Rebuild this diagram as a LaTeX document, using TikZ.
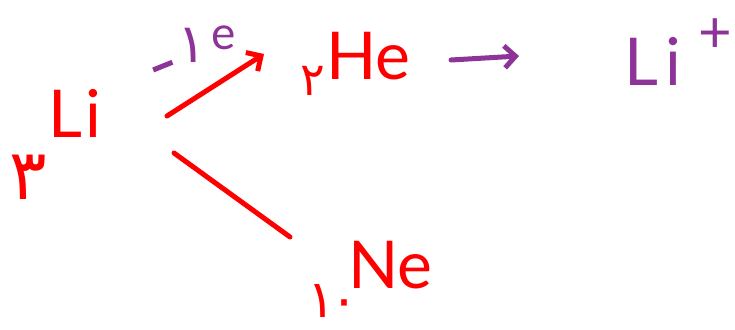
\documentclass[tikz,border=0pt]{standalone}
\usepackage{fontspec}
\setmainfont{Lato}
\newfontfamily\arabicfont[Script=Arabic]{DejaVu Sans}
\usetikzlibrary{arrows.meta}
\definecolor{pen}{HTML}{FF0000}
\definecolor{plum}{HTML}{8E3398}
\tikzset{
  word/.style={text=#1, font=\fontsize{66}{66}\selectfont, inner sep=0pt, anchor=base west},
  word/.default=pen,
  num/.style={text=pen, font=\arabicfont\fontsize{#1}{#1}\selectfont, inner sep=0pt},
  hand/.style={draw=#1, line width=5pt, line cap=round, line join=round},
  hand/.default=pen,
  harrow/.style={hand=#1, -{Straight Barb[length=11pt,width=22pt,line width=5pt]}},
}

\begin{document}
\begin{tikzpicture}[x=1pt,y=-1pt]
  \useasboundingbox (0,0) rectangle (735,329);
  % atoms
  \node[word] (li) at (48,137) {L\hspace{0.05em}i};
  \node[num=70] (z3) at (28,177) {۳};
  \node[word] (he) at (326,79) {He};
  \node[num=46] (z2) at (313,81) {۲};
  \node[word] (ne) at (348,288) {Ne};
  \node[num=52] (z10) at (333,301) {۱\hspace{-0.1em}۰};
  \node[word=plum] (lip) at (624,85) {L\hspace{0.12em}i\hspace{0.25em}\raisebox{0.5em}{\fontsize{58}{58}\selectfont +}};
  % arrows
  \coordinate (a1) at (167,116);
  \coordinate (a2) at (264,54);
  \coordinate (b1) at (174,153);
  \coordinate (b2) at (290,237);
  \coordinate (c1) at (451,60);
  \coordinate (c2) at (519,56);
  \draw[harrow] (a1) -- (a2);
  \draw[hand] (b1) -- (b2);
  \draw[harrow=plum] (c1) -- (c2);
  \node[text=plum, font=\fontsize{46}{46}\selectfont, inner sep=0pt] (el) at (194,49)
    {\raisebox{-0.22em}{\rotatebox{22}{\rule{0.45em}{0.11em}}}\hspace{0.1em}{\arabicfont\fontsize{54}{54}\selectfont ۱}\hspace{0.1em}\raisebox{0.28em}{e}};
\end{tikzpicture}
\end{document}
